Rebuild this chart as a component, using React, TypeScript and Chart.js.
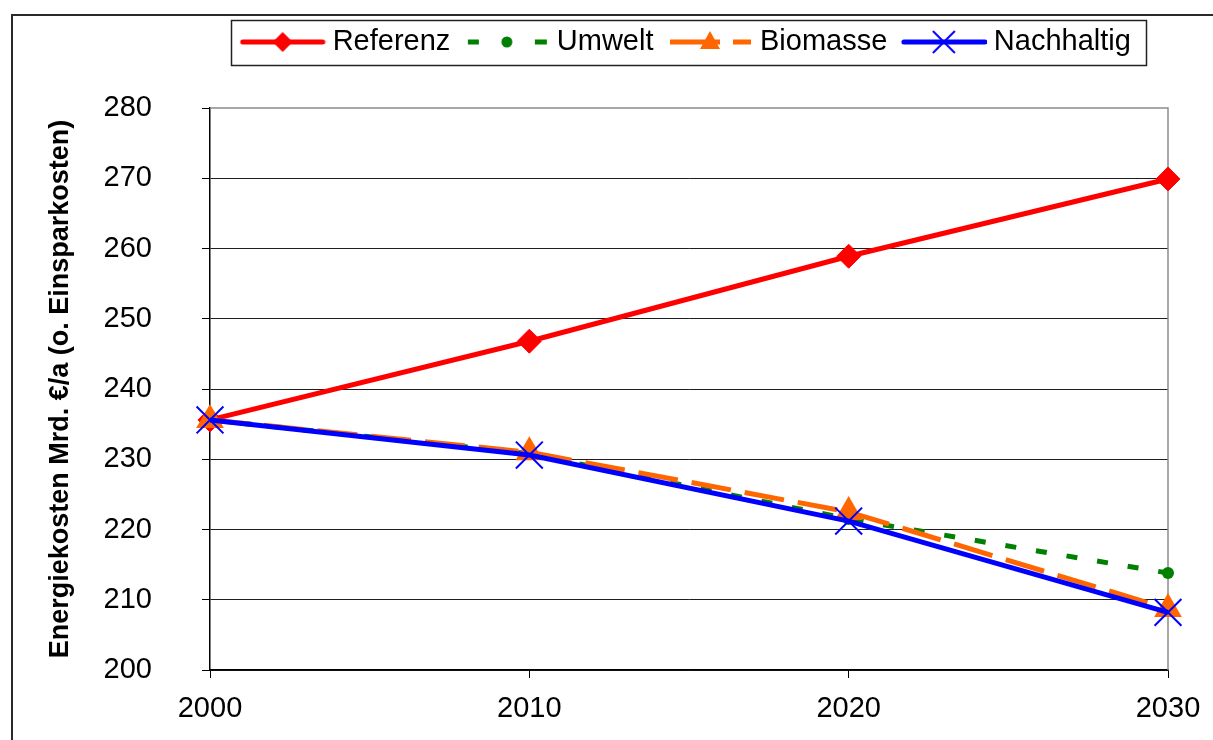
import React, { useEffect, useRef } from "react";
import { Chart, registerables } from "chart.js";

Chart.register(...registerables);

const years = ["2000", "2010", "2020", "2030"];
const seriesNames = ["Referenz", "Umwelt", "Biomasse", "Nachhaltig"];
const referenz = [235.6, 246.8, 258.9, 269.9];
const umwelt = [235.6, 230.8, 221.5, 213.8];
const biomasse = [235.6, 231.0, 222.5, 208.7];
const nachhaltig = [235.6, 230.6, 221.2, 208.2];
const yMin = 200;
const yMax = 280;
const yStep = 10;
const yTitle = "Energiekosten Mrd. €/a (o. Einsparkosten)";

const FONT = "'Liberation Sans', Arial, Helvetica, sans-serif";
const RED = "#FF0000";
const GREEN = "#008000";
const ORANGE = "#FF6600";
const BLUE = "#0000FF";

function makeSample(kind: number): HTMLCanvasElement {
  const c = document.createElement("canvas");
  c.width = 86;
  c.height = 30;
  const g = c.getContext("2d") as CanvasRenderingContext2D;
  const cy = 15;
  const cx = 43;
  if (kind === 0) {
    g.strokeStyle = RED;
    g.lineWidth = 5;
    g.lineCap = "round";
    g.beginPath();
    g.moveTo(3, cy);
    g.lineTo(83, cy);
    g.stroke();
    g.fillStyle = RED;
    g.beginPath();
    g.moveTo(cx - 10, cy);
    g.lineTo(cx, cy - 10);
    g.lineTo(cx + 10, cy);
    g.lineTo(cx, cy + 10);
    g.closePath();
    g.fill();
  } else if (kind === 1) {
    g.fillStyle = GREEN;
    g.fillRect(4, cy - 2.5, 11, 5);
    g.fillRect(71, cy - 2.5, 12, 5);
    g.beginPath();
    g.arc(cx, cy, 5.5, 0, Math.PI * 2);
    g.fill();
  } else if (kind === 2) {
    g.fillStyle = ORANGE;
    g.fillRect(3, cy - 2.5, 50, 5);
    g.fillRect(66, cy - 2.5, 18, 5);
    g.beginPath();
    g.moveTo(cx, cy - 11);
    g.lineTo(cx + 10, cy + 7);
    g.lineTo(cx - 10, cy + 7);
    g.closePath();
    g.fill();
  } else {
    g.strokeStyle = BLUE;
    g.lineWidth = 5;
    g.lineCap = "round";
    g.beginPath();
    g.moveTo(3, cy);
    g.lineTo(84, cy);
    g.stroke();
    g.lineWidth = 2;
    g.lineCap = "butt";
    g.beginPath();
    g.moveTo(cx - 11, cy - 11);
    g.lineTo(cx + 11, cy + 11);
    g.moveTo(cx + 11, cy - 11);
    g.lineTo(cx - 11, cy + 11);
    g.stroke();
  }
  return c;
}

const LEGEND_TEXT_MID = 42;

const framePlugin = {
  id: "frame",
  afterUpdate(chart: any) {
    const lg = chart.legend;
    const ca = chart.chartArea;
    if (!lg || !ca) return;
    const dx = (ca.left + ca.right) / 2 - (lg.left + lg.right) / 2;
    lg.left += dx;
    lg.right += dx;
    const pad = lg.options.labels.padding;
    const fs = lg.options.labels.font.size;
    const curMid = lg.top + pad + fs / 2;
    const dy = LEGEND_TEXT_MID - curMid;
    lg.top += dy;
    lg.bottom += dy;
  },
  beforeDatasetsDraw(chart: any) {
    const { ctx, chartArea: ca } = chart;
    ctx.save();
    ctx.strokeStyle = "#8c8c8c";
    ctx.lineWidth = 1.5;
    ctx.beginPath();
    ctx.moveTo(ca.left, ca.top);
    ctx.lineTo(ca.right, ca.top);
    ctx.lineTo(ca.right, ca.bottom);
    ctx.stroke();
    ctx.restore();
  },
  afterDraw(chart: any) {
    const { ctx } = chart;
    ctx.save();
    ctx.strokeStyle = "#2a2a2a";
    ctx.lineWidth = 2;
    ctx.strokeRect(12, 15, 1400, 1000);
    const lg = chart.legend;
    if (lg && lg.lineWidths) {
      const pad = lg.options.labels.padding;
      const fs = lg.options.labels.font.size;
      const lw = lg.lineWidths[0];
      const x0 = (lg.left + pad + lg.right - lw) / 2;
      const x1 = x0 + lw - pad;
      const mid = lg.top + pad + fs / 2;
      ctx.lineWidth = 1.5;
      ctx.strokeStyle = "#222";
      ctx.strokeRect(Math.round(x0 - 16) + 0.5, Math.round(mid - 22) + 0.5, Math.round(x1 - x0 + 31), 45);
    }
    ctx.restore();
  },
};

export default function App() {
  const ref = useRef<HTMLCanvasElement | null>(null);

  useEffect(() => {
    if (!ref.current) return;
    Chart.defaults.font.family = FONT;
    const samples = [0, 1, 2, 3].map(makeSample);
    const chart = new Chart(ref.current, {
      type: "line",
      data: {
        labels: years,
        datasets: [
          {
            label: seriesNames[0],
            data: referenz,
            borderColor: RED,
            backgroundColor: RED,
            borderWidth: 5,
            pointStyle: "rectRot",
            pointRadius: 12,
            pointBorderWidth: 1,
            pointBackgroundColor: RED,
            pointBorderColor: RED,
            order: 4,
          },
          {
            label: seriesNames[1],
            data: umwelt,
            borderColor: GREEN,
            backgroundColor: GREEN,
            borderWidth: 5,
            borderDash: [11, 20],
            pointStyle: "circle",
            pointRadius: 6,
            pointBorderWidth: 0,
            pointBackgroundColor: GREEN,
            order: 3,
          },
          {
            label: seriesNames[2],
            data: biomasse,
            borderColor: ORANGE,
            backgroundColor: ORANGE,
            borderWidth: 5,
            borderDash: [40, 14],
            pointStyle: "triangle",
            pointRadius: 16,
            pointBorderWidth: 0,
            pointBackgroundColor: ORANGE,
            order: 2,
          },
          {
            label: seriesNames[3],
            data: nachhaltig,
            borderColor: BLUE,
            backgroundColor: BLUE,
            borderWidth: 5,
            pointStyle: "crossRot",
            pointRadius: 19,
            pointBorderWidth: 2,
            pointBorderColor: BLUE,
            order: 1,
          },
        ],
      },
      options: {
        animation: false,
        responsive: false,
        events: [],
        layout: { padding: { top: 48, left: 0, right: 45, bottom: 0 } },
        elements: { line: { tension: 0 } },
        plugins: {
          tooltip: { enabled: false },
          legend: {
            display: true,
            position: "top",
            labels: {
              font: { size: 29, family: FONT },
              color: "#000",
              padding: 21,
              usePointStyle: true,
              pointStyleWidth: 71,
              generateLabels: (ch: any) =>
                ch.data.datasets.map((ds: any, i: number) => ({
                  text: ds.label,
                  pointStyle: samples[i],
                  fillStyle: "rgba(0,0,0,0)",
                  strokeStyle: "rgba(0,0,0,0)",
                  lineWidth: 0,
                  hidden: false,
                  datasetIndex: i,
                  fontColor: "#000",
                })),
            },
          },
        },
        scales: {
          x: {
            type: "category",
            offset: false,
            afterFit: (s: any) => {
              s.height = 70;
              s.paddingRight = 0;
              s.paddingLeft = 0;
            },
            grid: {
              drawOnChartArea: false,
              drawTicks: true,
              tickLength: 8,
              color: "#000",
              lineWidth: 1,
            },
            border: { color: "#000", width: 1.5 },
            ticks: {
              font: { size: 29, family: FONT },
              color: "#000",
              padding: 14,
              maxRotation: 0,
            },
          },
          y: {
            min: yMin,
            max: yMax,
            afterFit: (s: any) => {
              s.width = 210;
            },
            ticks: {
              stepSize: yStep,
              font: { size: 29, family: FONT },
              color: "#000",
              padding: 50,
            },
            grid: {
              drawTicks: true,
              tickLength: 8,
              color: (c: any) => (c.tick && c.tick.value === yMax ? "rgba(0,0,0,0)" : "#1e1e1e"),
              tickColor: "#000",
              lineWidth: 1,
            },
            border: { color: "#000", width: 1.5 },
            title: {
              display: true,
              text: yTitle,
              color: "#000",
              font: { size: 27, weight: "bold", family: FONT },
              padding: { top: 44, bottom: 0 },
            },
          },
        },
      },
      plugins: [framePlugin],
    } as any);
    return () => chart.destroy();
  }, []);

  return (
    <div style={{ position: "absolute", left: 0, top: 0, width: 1213, height: 740, background: "#fff" }}>
      <canvas ref={ref} width={1213} height={740} style={{ display: "block" }} />
    </div>
  );
}
